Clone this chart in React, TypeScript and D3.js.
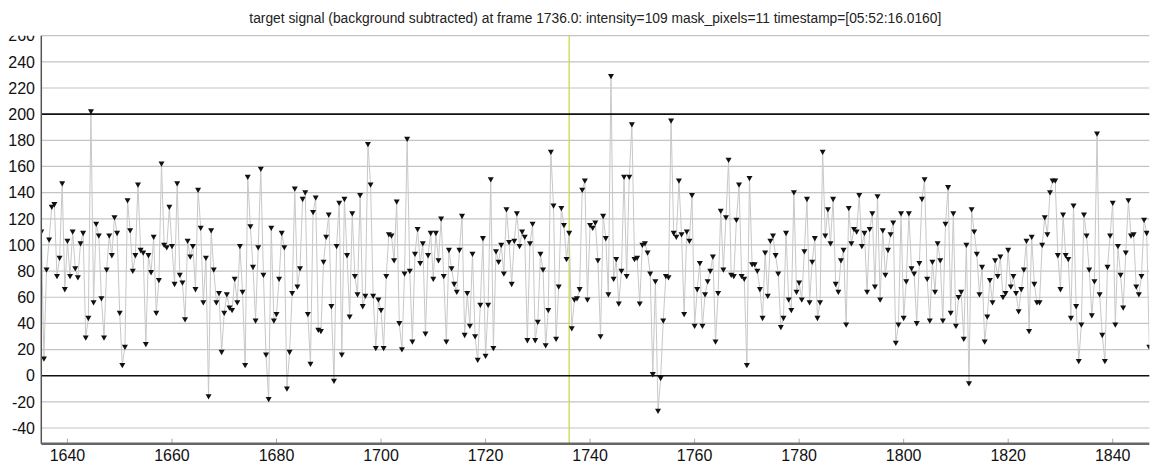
import { useEffect, useRef } from "react"
import * as d3 from "d3"

// frames run from 1635 in half-frame steps
const frameStart = 1635
const frameStep = 0.5

const intensity = [
  110, 13, 81, 104, 129, 131, 76, 90, 147, 66, 103, 76, 110, 82, 75, 101, 109, 29, 44, 202,
  56, 116, 107, 59, 29, 81, 107, 92, 121, 109, 48, 8, 22, 134, 111, 80, 92, 146, 96, 94,
  24, 92, 79, 106, 48, 73, 162, 100, 98, 129, 99, 70, 147, 77, 71, 43, 103, 91, 99, 66,
  142, 113,
  56, 90, -16, 111, 81, 56, 63, 18, 48, 62, 52, 50, 74, 56, 99, 64, 8, 152, 114, 83,
  42, 98, 158, 77, 16, -18, 113, 42, 47, 74, 109, 98, -10, 18, 63, 143, 68, 82, 135, 140,
  47, 9, 125, 136, 35, 34, 87, 106, 123, 53,
  -4, 99, 132, 16, 135, 92, 45, 124, 76, 62, 138, 53, 61, 177, 146, 61, 21, 58, 50, 21,
  76, 108, 107, 88, 133, 40, 20, 78, 181, 80, 26, 93, 112, 86, 101, 32, 92, 109, 74, 109,
  88, 120, 76, 26, 96, 82, 70, 64, 96, 122,
  31, 63, 38, 93, 30, 12, 54, 105, 15, 54, 150, 21, 95, 87, 100, 78, 127, 102, 70, 103,
  124, 99, 110, 106, 27, 101, 116, 27, 41, 93, 81, 23, 50, 171, 130, 28, 68, 128, 115, 89,
  109, 36, 58, 59, 66, 142, 149, 58, 115, 113, 117, 88,
  30, 122, 105, 62, 229, 74, 89, 55, 80, 152, 76, 152, 192, 89, 90, 55, 100, 101, 94, 78,
  1, 72, -27, -2, 42, 76, 75, 195, 109, 106, 149, 108, 47, 110, 103, 138, 38, 66, 86, 38,
  62, 72, 80, 91, 26, 63, 126, 81, 121, 165, 77,
  76, 119, 146, 76, 74, 8, 151, 85, 85, 80, 66, 44, 94, 61, 103, 107, 92, 78, 37, 44,
  109, 58, 50, 140, 64, 71, 58, 95, 135, 56, 87, 105, 44, 56, 171, 107, 127, 101, 135, 70,
  64, 88, 96, 39, 128, 101, 112, 110, 138, 99, 109, 64,
  112, 124, 68, 137, 58, 111, 77, 96, 108, 117, 25, 39, 124, 44, 72, 124, 82, 78, 40, 86,
  135, 150, 74, 42, 87, 64, 101, 88, 42, 116, 144, 48, 124, 38, 60, 64, 28, 100, -6, 127,
  110, 93, 62, 83, 26, 45, 73, 56, 88, 76, 91, 60,
  63, 96, 68, 76, 63, 49, 66, 81, 103, 34, 106, 70, 56, 56, 100, 121, 108, 140, 149, 149,
  92, 66, 123, 92, 89, 44, 130, 53, 11, 39, 123, 107, 81, 46, 72, 185, 62, 31, 11, 83,
  107, 132, 39, 99, 77, 52, 94, 134, 107, 108, 68, 62, 76, 119, 109, 22,
]

const xTicks = [1640, 1660, 1680, 1700, 1720, 1740, 1760, 1780, 1800, 1820, 1840]
const yTicks = [-40, -20, 0, 20, 40, 60, 80, 100, 120, 140, 160, 180, 200, 220, 240, 260]
const boldLines = [0, 200]
const currentFrame = 1736
const title =
  "target signal (background subtracted) at frame 1736.0: intensity=109 mask_pixels=11 timestamp=[05:52:16.0160]"

const W = 1152
const H = 468
const font = "'Liberation Sans', Arial, Helvetica, sans-serif"

export default function App() {
  const svgRef = useRef<SVGSVGElement>(null)

  useEffect(() => {
    if (!svgRef.current) return
    const svg = d3.select(svgRef.current)
    svg.selectAll("*").remove()

    const left = 41.3
    const right = 1149.3
    const top = 35.7
    const bottom = 443.7

    const data = intensity.map((v, i) => ({ frame: frameStart + i * frameStep, value: v }))

    const x = d3.scaleLinear().domain([1635, 1847]).range([left, right])
    const y = d3.scaleLinear().domain([-52, 260]).range([bottom, top])

    const defs = svg.append("defs")
    defs
      .append("clipPath")
      .attr("id", "plot-clip")
      .append("rect")
      .attr("x", left)
      .attr("y", top)
      .attr("width", right - left)
      .attr("height", bottom - top)
    defs
      .append("clipPath")
      .attr("id", "label-clip")
      .append("rect")
      .attr("x", 0)
      .attr("y", top)
      .attr("width", left)
      .attr("height", bottom - top + 10)

    // title
    svg
      .append("text")
      .attr("x", (left + right) / 2)
      .attr("y", 23)
      .attr("text-anchor", "middle")
      .style("font-family", font)
      .style("font-size", "13.8px")
      .style("fill", "#222")
      .text(title)

    // horizontal grid
    svg
      .append("g")
      .selectAll("line")
      .data(yTicks.filter((t) => !boldLines.includes(t)))
      .enter()
      .append("line")
      .attr("x1", left)
      .attr("x2", right)
      .attr("y1", (d) => y(d))
      .attr("y2", (d) => y(d))
      .style("stroke", "#c4c4c4")
      .style("stroke-width", 1.2)

    // y labels
    svg
      .append("g")
      .attr("clip-path", "url(#label-clip)")
      .selectAll("text")
      .data(yTicks)
      .enter()
      .append("text")
      .attr("x", 35)
      .attr("y", (d) => y(d))
      .attr("dy", "0.36em")
      .attr("text-anchor", "end")
      .style("font-family", font)
      .style("font-size", "16px")
      .style("fill", "#111")
      .text((d) => d)

    // x tick marks
    svg
      .append("g")
      .selectAll("line")
      .data(xTicks)
      .enter()
      .append("line")
      .attr("x1", (d) => x(d))
      .attr("x2", (d) => x(d))
      .attr("y1", bottom)
      .attr("y2", bottom - 5)
      .style("stroke", "#aaa")
      .style("stroke-width", 1)

    // x labels
    svg
      .append("g")
      .selectAll("text")
      .data(xTicks)
      .enter()
      .append("text")
      .attr("x", (d) => x(d))
      .attr("y", 461)
      .attr("text-anchor", "middle")
      .style("font-family", font)
      .style("font-size", "16px")
      .style("fill", "#111")
      .text((d) => d)

    // current frame marker
    svg
      .append("line")
      .attr("x1", x(currentFrame))
      .attr("x2", x(currentFrame))
      .attr("y1", top)
      .attr("y2", bottom)
      .style("stroke", "#cdd84a")
      .style("stroke-width", 1.3)

    const plot = svg.append("g").attr("clip-path", "url(#plot-clip)")

    const line = d3
      .line<{ frame: number; value: number }>()
      .x((d) => x(d.frame))
      .y((d) => y(d.value))

    plot
      .append("path")
      .attr("d", line(data))
      .style("fill", "none")
      .style("stroke", "#c8c8c8")
      .style("stroke-width", 1)

    // black reference lines at 0 and 200
    svg
      .append("g")
      .selectAll("line")
      .data(boldLines)
      .enter()
      .append("line")
      .attr("x1", left)
      .attr("x2", right)
      .attr("y1", (d) => y(d))
      .attr("y2", (d) => y(d))
      .style("stroke", "#111")
      .style("stroke-width", 1.6)

    // down-triangle markers
    const tri = "M-3,-2.3 L3,-2.3 L0,3 Z"
    plot
      .selectAll("path.pt")
      .data(data)
      .enter()
      .append("path")
      .attr("class", "pt")
      .attr("d", tri)
      .attr("transform", (d) => `translate(${x(d.frame)},${y(d.value)})`)
      .style("fill", "#111")

    // axes frame
    svg
      .append("line")
      .attr("x1", left)
      .attr("x2", left)
      .attr("y1", top)
      .attr("y2", bottom)
      .style("stroke", "#555")
      .style("stroke-width", 1.5)
    svg
      .append("line")
      .attr("x1", left)
      .attr("x2", right)
      .attr("y1", bottom)
      .attr("y2", bottom)
      .style("stroke", "#666")
      .style("stroke-width", 2.5)
  }, [])

  return (
    <svg
      ref={svgRef}
      width={W}
      height={H}
      style={{ position: "absolute", left: 0, top: 0, background: "#fff" }}
    ></svg>
  )
}
